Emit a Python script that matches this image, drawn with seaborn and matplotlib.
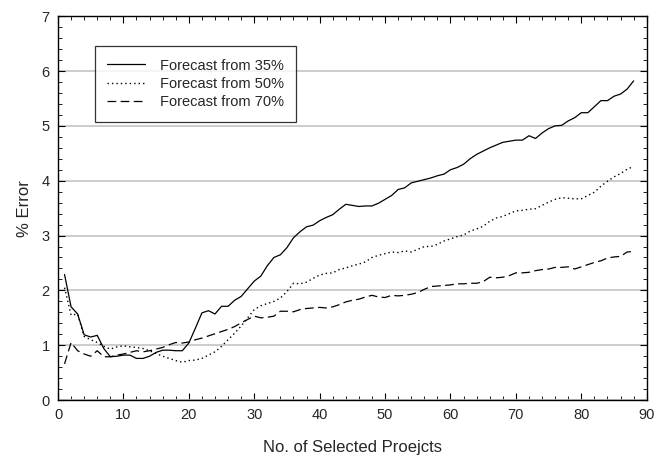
import pandas as pd
import seaborn as sns
import matplotlib.pyplot as plt
from matplotlib.ticker import MultipleLocator

n_projects = list(range(1, 89))

forecast_35 = [2.29, 1.70, 1.57, 1.19, 1.15, 1.18, 0.94, 0.79, 0.80, 0.82,
               0.82, 0.76, 0.76, 0.80, 0.87, 0.91, 0.91, 0.90, 0.90, 1.04,
               1.31, 1.59, 1.63, 1.57, 1.71, 1.71, 1.82, 1.89, 2.03, 2.17,
               2.26, 2.45, 2.60, 2.65, 2.78, 2.96, 3.07, 3.16, 3.19, 3.27,
               3.33, 3.38, 3.48, 3.57, 3.55, 3.53, 3.54, 3.54, 3.59, 3.66,
               3.73, 3.84, 3.87, 3.96, 3.99, 4.02, 4.05, 4.09, 4.12, 4.20,
               4.24, 4.30, 4.40, 4.48, 4.54, 4.60, 4.65, 4.70, 4.72, 4.74,
               4.74, 4.82, 4.77, 4.87, 4.95, 5.00, 5.01, 5.09, 5.15, 5.24,
               5.24, 5.35, 5.46, 5.46, 5.54, 5.58, 5.67, 5.82]

forecast_50 = [2.05, 1.55, 1.57, 1.16, 1.10, 1.05, 0.98, 0.93, 0.97, 0.99,
               0.97, 0.96, 0.94, 0.90, 0.85, 0.80, 0.76, 0.72, 0.69, 0.72,
               0.73, 0.76, 0.82, 0.88, 0.98, 1.10, 1.22, 1.35, 1.50, 1.65,
               1.72, 1.76, 1.80, 1.86, 1.98, 2.13, 2.12, 2.15, 2.22, 2.28,
               2.31, 2.32, 2.38, 2.41, 2.45, 2.48, 2.52, 2.60, 2.64, 2.67,
               2.70, 2.69, 2.72, 2.70, 2.75, 2.80, 2.80, 2.84, 2.90, 2.94,
               2.98, 3.01, 3.08, 3.12, 3.17, 3.26, 3.32, 3.35, 3.40, 3.45,
               3.46, 3.48, 3.49, 3.55, 3.61, 3.66, 3.69, 3.68, 3.67, 3.67,
               3.73, 3.79, 3.90, 3.99, 4.07, 4.13, 4.21, 4.26]

forecast_70 = [0.66, 1.05, 0.90, 0.84, 0.80, 0.90, 0.79, 0.79, 0.82, 0.84,
               0.87, 0.90, 0.88, 0.90, 0.93, 0.96, 1.01, 1.05, 1.04, 1.06,
               1.10, 1.13, 1.17, 1.21, 1.25, 1.29, 1.34, 1.41, 1.47, 1.53,
               1.50, 1.51, 1.53, 1.62, 1.62, 1.61, 1.65, 1.67, 1.68, 1.69,
               1.68, 1.70, 1.74, 1.79, 1.82, 1.84, 1.88, 1.91, 1.88, 1.87,
               1.91, 1.90, 1.91, 1.93, 1.96, 2.02, 2.07, 2.08, 2.09, 2.10,
               2.12, 2.12, 2.13, 2.13, 2.16, 2.24, 2.23, 2.24, 2.27, 2.32,
               2.32, 2.33, 2.36, 2.38, 2.39, 2.42, 2.42, 2.43, 2.39, 2.43,
               2.47, 2.51, 2.54, 2.59, 2.61, 2.62, 2.70, 2.71]

labels = ['Forecast from 35%', 'Forecast from 50%', 'Forecast from 70%']

sns.set_style('ticks')
plt.rcParams['font.family'] = ['Liberation Sans', 'DejaVu Sans']

df = pd.DataFrame({'n': n_projects, labels[0]: forecast_35,
                   labels[1]: forecast_50, labels[2]: forecast_70})

fig = plt.figure(figsize=(6.69, 4.62), dpi=100)
ax = fig.add_axes([0.0867, 0.134, 0.880, 0.831])

sns.lineplot(data=df, x='n', y=labels[0], ax=ax, color='black', lw=0.9,
             label=labels[0])
sns.lineplot(data=df, x='n', y=labels[1], ax=ax, color='black', lw=1.0,
             linestyle=(0, (1, 2.2)), label=labels[1])
sns.lineplot(data=df, x='n', y=labels[2], ax=ax, color='black', lw=0.9,
             linestyle=(0, (7, 3.5)), label=labels[2])

ax.set_xlim(0, 90)
ax.set_ylim(0, 7)
ax.xaxis.set_major_locator(MultipleLocator(10))
ax.xaxis.set_minor_locator(MultipleLocator(2))
ax.yaxis.set_major_locator(MultipleLocator(1))
ax.yaxis.set_minor_locator(MultipleLocator(0.2))
ax.tick_params(which='both', direction='in', top=True, right=True,
               labelsize=10.5, color='black')
ax.tick_params(which='major', length=5, pad=6)
ax.tick_params(which='minor', length=3)
ax.yaxis.grid(True, color='#c8c8c8', lw=1.3)
ax.set_axisbelow(True)
for s in ax.spines.values():
    s.set_color('black')
    s.set_linewidth(1.0)

ax.set_xlabel('No. of Selected Proejcts', fontsize=12, labelpad=13)
ax.set_ylabel('% Error', fontsize=12, labelpad=7)

leg = ax.legend(loc='upper left', bbox_to_anchor=(0.063, 0.922),
                borderaxespad=0, fontsize=10.5, handlelength=2.6,
                handletextpad=1.0, fancybox=False, frameon=True,
                labelspacing=0.3, borderpad=0.85)
leg.get_frame().set_edgecolor('black')
leg.get_frame().set_linewidth(0.9)

fig.savefig('out.png', dpi=100)
